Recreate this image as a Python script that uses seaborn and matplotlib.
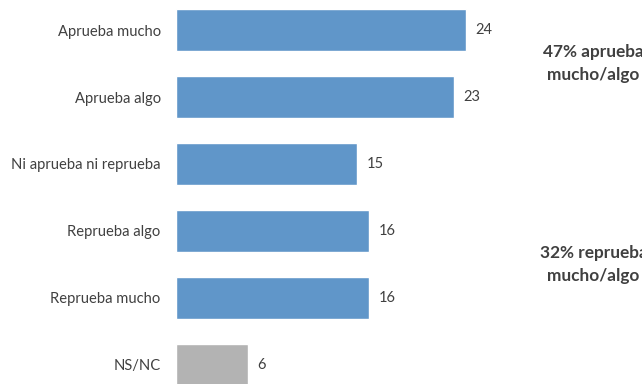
import matplotlib
matplotlib.use("Agg")
import matplotlib.pyplot as plt
import seaborn as sns
import pandas as pd

categories = ["Aprueba mucho", "Aprueba algo", "Ni aprueba ni reprueba",
              "Reprueba algo", "Reprueba mucho", "NS/NC"]
values = [24, 23, 15, 16, 16, 6]
bar_colors = ["#6096C9"] * 5 + ["#B3B3B3"]
notes = ["47% aprueba\nmucho/algo", "32% reprueba\nmucho/algo"]
note_pos = [0.5, 3.5]

sns.set_style("white")
plt.rcParams["font.family"] = ["Lato", "DejaVu Sans"]

df = pd.DataFrame({"cat": categories, "val": values})

fig = plt.figure(figsize=(6.42, 3.84), dpi=100)
ax = fig.add_axes([176 / 642, 0, 466 / 642, 1])
sns.barplot(data=df, x="val", y="cat", hue="cat", palette=bar_colors,
            legend=False, width=0.627, ax=ax, saturation=1)

ax.set_xlim(0, 38.57)
ax.set_ylim(5.284, -0.448)
ax.set_xlabel("")
ax.set_ylabel("")
ax.set_xticks([])
sns.despine(ax=ax, left=True, bottom=True)
ax.tick_params(axis="y", length=0, pad=11, labelsize=10.6, labelcolor="#404040")

for i, v in enumerate(values):
    ax.text(v + 0.75, i, str(v), va="center", ha="left", fontsize=10.5, color="#404040")

# the reference lets these notes run past the right edge
for txt, y in zip(notes, note_pos):
    ax.text(34.55, y, txt, ha="center", va="center", fontsize=12.4,
            fontweight="bold", color="#404040", linespacing=1.6)

fig.savefig("out.png", dpi=100)
